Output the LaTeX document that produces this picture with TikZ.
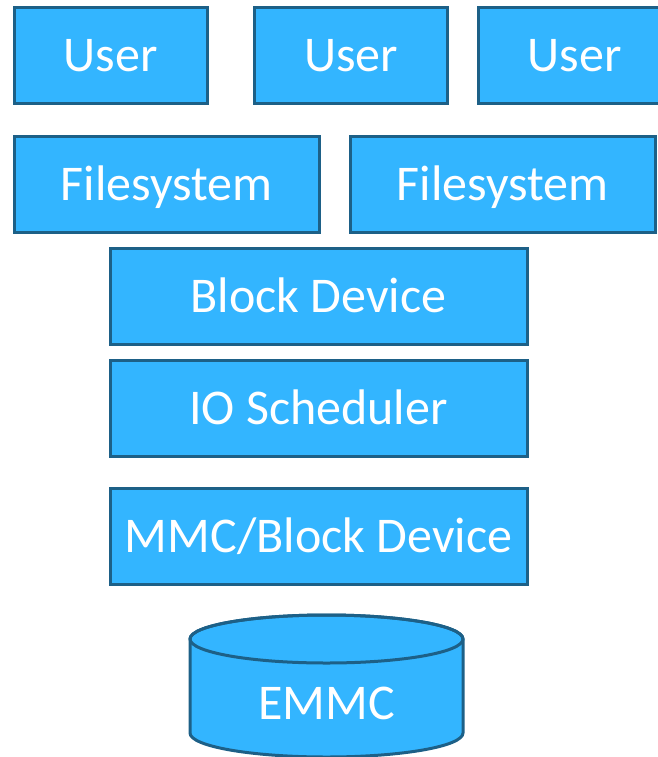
\documentclass[tikz,border=0pt]{standalone}
\usepackage{fontspec}
\setmainfont{Carlito}
\definecolor{boxfill}{RGB}{51,181,255}
\definecolor{boxline}{RGB}{29,96,135}
\begin{document}
\begin{tikzpicture}[x=1pt,y=-1pt,
  lbl/.style={text=white, font=\fontsize{50}{54}\selectfont, inner sep=0pt},
  box/.style={draw=boxline, line width=3pt, fill=boxfill, lbl,
    minimum height=96pt, text depth=2pt},
  narrow/.style={box, minimum width=193pt},
  wide/.style={box, minimum width=305pt},
  broad/.style={box, minimum width=417pt}]
\useasboundingbox (0,0) rectangle (658,757);
\clip (0,0) rectangle (658,757);
\node[narrow] (u1) at (110.5,56) {User};
\node[narrow] (u2) at (351,56) {User};
\node[narrow] (u3) at (574.5,56) {User};
\node[wide] (f1) at (166.5,184) {Filesystem};
\node[wide] (f2) at (502.5,184) {Filesystem};
\node[broad] (bd) at (318.5,296) {Block Device};
\node[broad] (io) at (318.5,408) {IO Scheduler};
\node[broad] (mmc) at (318.5,536) {MMC/Block Device};
% EMMC cylinder
\filldraw[draw=boxline, line width=3pt, fill=boxfill]
  (190,639) -- (190,733) arc[start angle=180, end angle=360, x radius=136.5pt, y radius=24pt]
  -- (463,639) arc[start angle=0, end angle=180, x radius=136.5pt, y radius=24pt] -- cycle;
\draw[boxline, line width=3pt] (326.5,639) ellipse[x radius=136.5pt, y radius=24pt];
\node[lbl] (emmc) at (326.5,703) {EMMC};
\end{tikzpicture}
\end{document}
